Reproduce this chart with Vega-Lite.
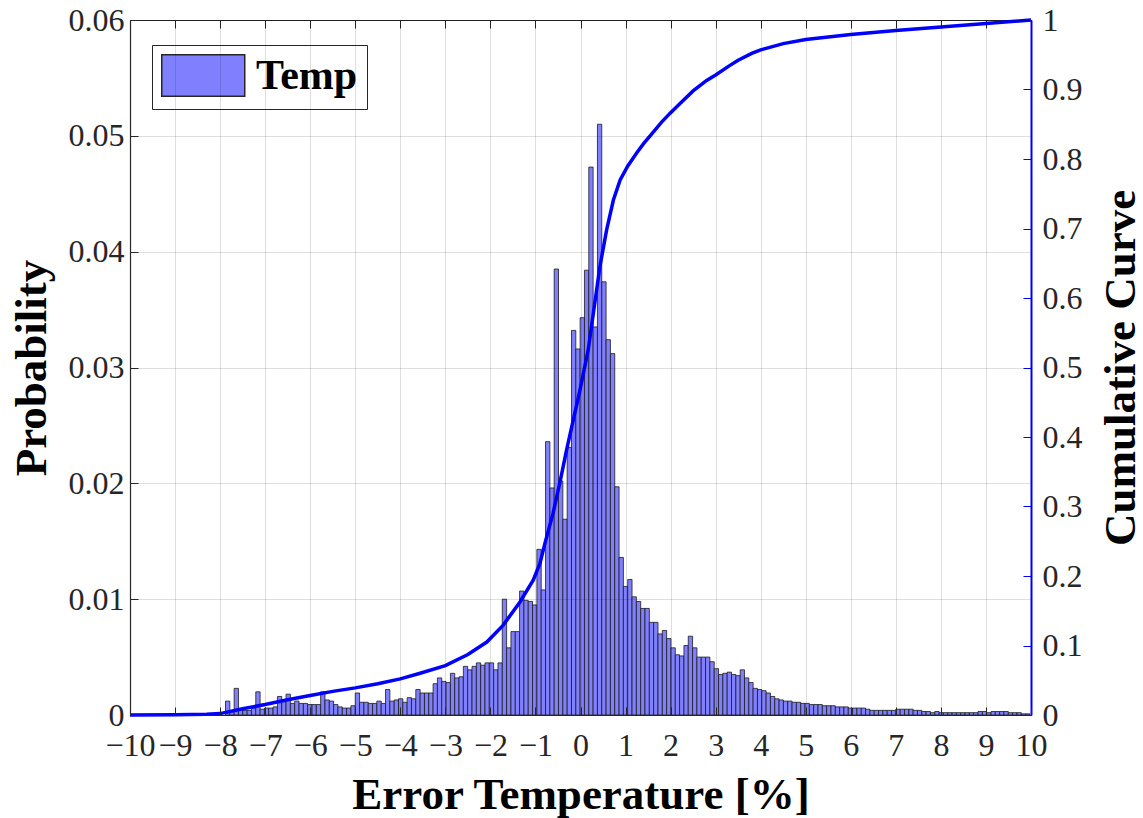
{
"$schema": "https://vega.github.io/schema/vega-lite/v6.json",
"width": 901, "height": 695,
"autosize": {"type": "none"},
"padding": {"left": 130, "top": 20, "right": 112, "bottom": 103},
"background": "white",
"config": {"font": "Liberation Serif", "view": {"stroke": null}},
"datasets": {
"bars": [
{"a":-7.88,"b":-7.784,"p":0.0012},{"a":-7.784,"b":-7.688,"p":0.0003},{"a":-7.688,"b":-7.592,"p":0.0023},{"a":-7.592,"b":-7.496,"p":0.0004},{"a":-7.496,"b":-7.4,"p":0.0004},{"a":-7.4,"b":-7.304,"p":0.0004},{"a":-7.304,"b":-7.208,"p":0.0006},{"a":-7.208,"b":-7.112,"p":0.0020},{"a":-7.112,"b":-7.016,"p":0.0005},{"a":-7.016,"b":-6.92,"p":0.0006},
{"a":-6.92,"b":-6.824,"p":0.0006},{"a":-6.824,"b":-6.728,"p":0.0007},{"a":-6.728,"b":-6.632,"p":0.0016},{"a":-6.632,"b":-6.536,"p":0.0012},{"a":-6.536,"b":-6.44,"p":0.0018},{"a":-6.44,"b":-6.344,"p":0.0010},{"a":-6.344,"b":-6.248,"p":0.0012},{"a":-6.248,"b":-6.152,"p":0.0010},{"a":-6.152,"b":-6.056,"p":0.0010},{"a":-6.056,"b":-5.96,"p":0.0009},
{"a":-5.96,"b":-5.864,"p":0.0009},{"a":-5.864,"b":-5.768,"p":0.0009},{"a":-5.768,"b":-5.672,"p":0.0020},{"a":-5.672,"b":-5.576,"p":0.0013},{"a":-5.576,"b":-5.48,"p":0.0012},{"a":-5.48,"b":-5.384,"p":0.0009},{"a":-5.384,"b":-5.288,"p":0.0007},{"a":-5.288,"b":-5.192,"p":0.0006},{"a":-5.192,"b":-5.096,"p":0.0006},{"a":-5.096,"b":-5.0,"p":0.0008},
{"a":-5.0,"b":-4.904,"p":0.0019},{"a":-4.904,"b":-4.808,"p":0.0011},{"a":-4.808,"b":-4.712,"p":0.0011},{"a":-4.712,"b":-4.616,"p":0.0010},{"a":-4.616,"b":-4.52,"p":0.0010},{"a":-4.52,"b":-4.424,"p":0.0012},{"a":-4.424,"b":-4.328,"p":0.0010},{"a":-4.328,"b":-4.232,"p":0.0022},{"a":-4.232,"b":-4.136,"p":0.0012},{"a":-4.136,"b":-4.04,"p":0.0013},
{"a":-4.04,"b":-3.944,"p":0.0014},{"a":-3.944,"b":-3.848,"p":0.0011},{"a":-3.848,"b":-3.752,"p":0.0015},{"a":-3.752,"b":-3.656,"p":0.0014},{"a":-3.656,"b":-3.56,"p":0.0022},{"a":-3.56,"b":-3.464,"p":0.0019},{"a":-3.464,"b":-3.368,"p":0.0019},{"a":-3.368,"b":-3.272,"p":0.0019},{"a":-3.272,"b":-3.176,"p":0.0027},{"a":-3.176,"b":-3.08,"p":0.0032},
{"a":-3.08,"b":-2.984,"p":0.0029},{"a":-2.984,"b":-2.888,"p":0.0028},{"a":-2.888,"b":-2.792,"p":0.0036},{"a":-2.792,"b":-2.696,"p":0.0032},{"a":-2.696,"b":-2.6,"p":0.0033},{"a":-2.6,"b":-2.504,"p":0.0042},{"a":-2.504,"b":-2.408,"p":0.0039},{"a":-2.408,"b":-2.312,"p":0.0042},{"a":-2.312,"b":-2.216,"p":0.0045},{"a":-2.216,"b":-2.12,"p":0.0043},
{"a":-2.12,"b":-2.024,"p":0.0045},{"a":-2.024,"b":-1.928,"p":0.0045},{"a":-1.928,"b":-1.832,"p":0.0039},{"a":-1.832,"b":-1.736,"p":0.0045},{"a":-1.736,"b":-1.64,"p":0.0100},{"a":-1.64,"b":-1.544,"p":0.0058},{"a":-1.544,"b":-1.448,"p":0.0072},{"a":-1.448,"b":-1.352,"p":0.0072},{"a":-1.352,"b":-1.256,"p":0.0107},{"a":-1.256,"b":-1.16,"p":0.0099},
{"a":-1.16,"b":-1.064,"p":0.0098},{"a":-1.064,"b":-0.968,"p":0.0095},{"a":-0.968,"b":-0.872,"p":0.0143},{"a":-0.872,"b":-0.776,"p":0.0108},{"a":-0.776,"b":-0.68,"p":0.0236},{"a":-0.68,"b":-0.584,"p":0.0196},{"a":-0.584,"b":-0.488,"p":0.0385},{"a":-0.488,"b":-0.392,"p":0.0202},{"a":-0.392,"b":-0.296,"p":0.0169},{"a":-0.296,"b":-0.2,"p":0.0231},
{"a":-0.2,"b":-0.104,"p":0.0332},{"a":-0.104,"b":-0.008,"p":0.0316},{"a":-0.008,"b":0.088,"p":0.0343},{"a":0.088,"b":0.184,"p":0.0384},{"a":0.184,"b":0.28,"p":0.0473},{"a":0.28,"b":0.376,"p":0.0335},{"a":0.376,"b":0.472,"p":0.0510},{"a":0.472,"b":0.568,"p":0.0374},{"a":0.568,"b":0.664,"p":0.0324},{"a":0.664,"b":0.76,"p":0.0312},
{"a":0.76,"b":0.856,"p":0.0197},{"a":0.856,"b":0.952,"p":0.0136},{"a":0.952,"b":1.048,"p":0.0111},{"a":1.048,"b":1.144,"p":0.0117},{"a":1.144,"b":1.24,"p":0.0102},{"a":1.24,"b":1.336,"p":0.0098},{"a":1.336,"b":1.432,"p":0.0092},{"a":1.432,"b":1.528,"p":0.0092},{"a":1.528,"b":1.624,"p":0.0080},{"a":1.624,"b":1.72,"p":0.0080},
{"a":1.72,"b":1.816,"p":0.0070},{"a":1.816,"b":1.912,"p":0.0073},{"a":1.912,"b":2.008,"p":0.0066},{"a":2.008,"b":2.104,"p":0.0058},{"a":2.104,"b":2.2,"p":0.0052},{"a":2.2,"b":2.296,"p":0.0051},{"a":2.296,"b":2.392,"p":0.0060},{"a":2.392,"b":2.488,"p":0.0068},{"a":2.488,"b":2.584,"p":0.0058},{"a":2.584,"b":2.68,"p":0.0050},
{"a":2.68,"b":2.776,"p":0.0050},{"a":2.776,"b":2.872,"p":0.0050},{"a":2.872,"b":2.968,"p":0.0046},{"a":2.968,"b":3.064,"p":0.0040},{"a":3.064,"b":3.16,"p":0.0035},{"a":3.16,"b":3.256,"p":0.0036},{"a":3.256,"b":3.352,"p":0.0037},{"a":3.352,"b":3.448,"p":0.0035},{"a":3.448,"b":3.544,"p":0.0034},{"a":3.544,"b":3.64,"p":0.0039},
{"a":3.64,"b":3.736,"p":0.0032},{"a":3.736,"b":3.832,"p":0.0028},{"a":3.832,"b":3.928,"p":0.0023},{"a":3.928,"b":4.024,"p":0.0022},{"a":4.024,"b":4.12,"p":0.0021},{"a":4.12,"b":4.216,"p":0.0019},{"a":4.216,"b":4.312,"p":0.0016},{"a":4.312,"b":4.408,"p":0.0014},{"a":4.408,"b":4.504,"p":0.0013},{"a":4.504,"b":4.6,"p":0.0012},
{"a":4.6,"b":4.696,"p":0.0012},{"a":4.696,"b":4.792,"p":0.0011},{"a":4.792,"b":4.888,"p":0.0011},{"a":4.888,"b":4.984,"p":0.0010},{"a":4.984,"b":5.08,"p":0.0010},{"a":5.08,"b":5.176,"p":0.0009},{"a":5.176,"b":5.272,"p":0.0009},{"a":5.272,"b":5.368,"p":0.0009},{"a":5.368,"b":5.464,"p":0.0008},{"a":5.464,"b":5.56,"p":0.0008},
{"a":5.56,"b":5.656,"p":0.0008},{"a":5.656,"b":5.752,"p":0.0007},{"a":5.752,"b":5.848,"p":0.0007},{"a":5.848,"b":5.944,"p":0.0007},{"a":5.944,"b":6.04,"p":0.0006},{"a":6.04,"b":6.136,"p":0.0006},{"a":6.136,"b":6.232,"p":0.0006},{"a":6.232,"b":6.328,"p":0.0006},{"a":6.328,"b":6.424,"p":0.0005},{"a":6.424,"b":6.52,"p":0.0004},
{"a":6.52,"b":6.616,"p":0.0004},{"a":6.616,"b":6.712,"p":0.0004},{"a":6.712,"b":6.808,"p":0.0004},{"a":6.808,"b":6.904,"p":0.0004},{"a":6.904,"b":7.0,"p":0.0004},{"a":7.0,"b":7.096,"p":0.0005},{"a":7.096,"b":7.192,"p":0.0005},{"a":7.192,"b":7.288,"p":0.0005},{"a":7.288,"b":7.384,"p":0.0005},{"a":7.384,"b":7.48,"p":0.0004},
{"a":7.48,"b":7.576,"p":0.0004},{"a":7.576,"b":7.672,"p":0.0003},{"a":7.672,"b":7.768,"p":0.0003},{"a":7.768,"b":7.864,"p":0.0002},{"a":7.864,"b":7.96,"p":0.0003},{"a":7.96,"b":8.056,"p":0.0002},{"a":8.056,"b":8.152,"p":0.0002},{"a":8.152,"b":8.248,"p":0.0002},{"a":8.248,"b":8.344,"p":0.0002},{"a":8.344,"b":8.44,"p":0.0002},
{"a":8.44,"b":8.536,"p":0.0002},{"a":8.536,"b":8.632,"p":0.0002},{"a":8.632,"b":8.728,"p":0.0002},{"a":8.728,"b":8.824,"p":0.0002},{"a":8.824,"b":8.92,"p":0.0003},{"a":8.92,"b":9.016,"p":0.0003},{"a":9.016,"b":9.112,"p":0.0002},{"a":9.112,"b":9.208,"p":0.0003},{"a":9.208,"b":9.304,"p":0.0003},{"a":9.304,"b":9.4,"p":0.0003},
{"a":9.4,"b":9.496,"p":0.0003},{"a":9.496,"b":9.592,"p":0.0002},{"a":9.592,"b":9.688,"p":0.0002},{"a":9.688,"b":9.784,"p":0.0002},{"a":9.784,"b":9.88,"p":0.0001},{"a":9.88,"b":9.976,"p":0.0001}
],
"cum": [
{"v":-10,"c":0},{"v":-9,"c":0.0005},{"v":-8.3,"c":0.001},{"v":-8,"c":0.002},{"v":-7.5,"c":0.009},{"v":-7,"c":0.015},{"v":-6.5,"c":0.022},{"v":-6,"c":0.028},{"v":-5.5,"c":0.034},{"v":-5,"c":0.039},{"v":-4.5,"c":0.045},{"v":-4,"c":0.052},{"v":-3.56,"c":0.06},{"v":-3,"c":0.071},{"v":-2.5,"c":0.087},{"v":-2.08,"c":0.105},{"v":-1.72,"c":0.129},{"v":-1.34,"c":0.163},{"v":-1.05,"c":0.194},{"v":-0.9,"c":0.218},{"v":-0.79,"c":0.247},{"v":-0.61,"c":0.29},{"v":-0.45,"c":0.337},{"v":-0.31,"c":0.381},{"v":-0.01,"c":0.468},{"v":0.17,"c":0.525},{"v":0.3,"c":0.585},{"v":0.43,"c":0.645},{"v":0.58,"c":0.698},{"v":0.73,"c":0.741},{"v":0.88,"c":0.77},{"v":1.05,"c":0.79},{"v":1.25,"c":0.809},{"v":1.4,"c":0.822},{"v":1.62,"c":0.839},{"v":1.8,"c":0.853},{"v":1.99,"c":0.866},{"v":2.21,"c":0.88},{"v":2.5,"c":0.898},{"v":2.8,"c":0.913},{"v":3,"c":0.921},{"v":3.3,"c":0.934},{"v":3.5,"c":0.942},{"v":3.8,"c":0.952},{"v":4,"c":0.957},{"v":4.5,"c":0.966},{"v":5,"c":0.972},{"v":6,"c":0.979},{"v":7,"c":0.985},{"v":8,"c":0.99},{"v":9,"c":0.995},{"v":10,"c":1.0}
]
},
"layer": [
{
"data": {"name": "bars"},
"mark": {"type": "rect", "stroke": "#1a1a1a", "strokeWidth": 0.8, "fillOpacity": 1},
"encoding": {
"x": {"field": "a", "type": "quantitative", "scale": {"domain": [-10, 10], "nice": false, "zero": false},
"axis": {"values": [-10,-9,-8,-7,-6,-5,-4,-3,-2,-1,0,1,2,3,4,5,6,7,8,9,10], "labelFlush": false, "labelOverlap": false, "labelFont": "Liberation Serif", "labelFontSize": 32, "labelColor": "#262626", "labelPadding": 23, "tickSize": -8, "tickColor": "#262626", "domainColor": "#262626", "domainWidth": 1.2, "grid": true, "gridColor": "#000000", "gridOpacity": 0.13, "zindex": 1, "title": "Error Temperature [%]", "titleFont": "Liberation Serif", "titleFontSize": 45, "titleFontWeight": "bold", "titleColor": "#000000", "titlePadding": 11}},
"x2": {"field": "b"},
"y": {"field": "p", "type": "quantitative", "scale": {"domain": [0, 0.06], "nice": false},
"axis": {"values": [0,0.01,0.02,0.03,0.04,0.05,0.06], "format": ".2~f", "labelFont": "Liberation Serif", "labelFontSize": 32, "labelColor": "#262626", "labelPadding": 14, "tickSize": -8, "tickColor": "#262626", "domainColor": "#262626", "domainWidth": 1.2, "grid": true, "gridColor": "#000000", "gridOpacity": 0.13, "zindex": 1, "title": "Probability", "titleFont": "Liberation Serif", "titleFontSize": 45, "titleFontWeight": "bold", "titleColor": "#000000", "titlePadding": 14}},
"y2": {"datum": 0},
"color": {"datum": "Temp", "type": "nominal", "scale": {"range": ["#8080ff"]},
"legend": {"title": null, "orient": "none", "legendX": 22, "legendY": 25, "fillColor": "white", "strokeColor": "#262626", "padding": 9, "symbolType": "M-1,-1H3V1H-1Z", "symbolSize": 1722, "symbolStrokeColor": "#262626", "symbolStrokeWidth": 1.5, "symbolOpacity": 1, "labelFont": "Liberation Serif", "labelFontSize": 42, "labelFontWeight": "bold", "labelColor": "#000000", "labelOffset": 52}}
}
},
{
"data": {"name": "cum"},
"mark": {"type": "line", "color": "#0000ff", "strokeWidth": 3.5},
"encoding": {
"x": {"field": "v", "type": "quantitative", "axis": {"orient": "top", "values": [-10,-9,-8,-7,-6,-5,-4,-3,-2,-1,0,1,2,3,4,5,6,7,8,9,10], "labels": false, "title": null, "grid": false, "tickSize": -8, "tickColor": "#262626", "domainColor": "#262626", "domainWidth": 1.2}},
"y": {"field": "c", "type": "quantitative", "scale": {"domain": [0, 1], "nice": false},
"axis": {"orient": "right", "values": [0,0.1,0.2,0.3,0.4,0.5,0.6,0.7,0.8,0.9,1], "format": ".1~f", "grid": false, "labelFont": "Liberation Serif", "labelFontSize": 32, "labelColor": "#262626", "labelPadding": 19, "tickSize": -8, "tickColor": "#0000ff", "domainColor": "#0000ff", "domainWidth": 2, "title": "Cumulative Curve", "titleAngle": 270, "titleBaseline": "top", "titleFont": "Liberation Serif", "titleFontSize": 45, "titleFontWeight": "bold", "titleColor": "#000000", "titlePadding": 16}}
}
}
],
"resolve": {"scale": {"y": "independent"}, "axis": {"x": "independent"}}
}
